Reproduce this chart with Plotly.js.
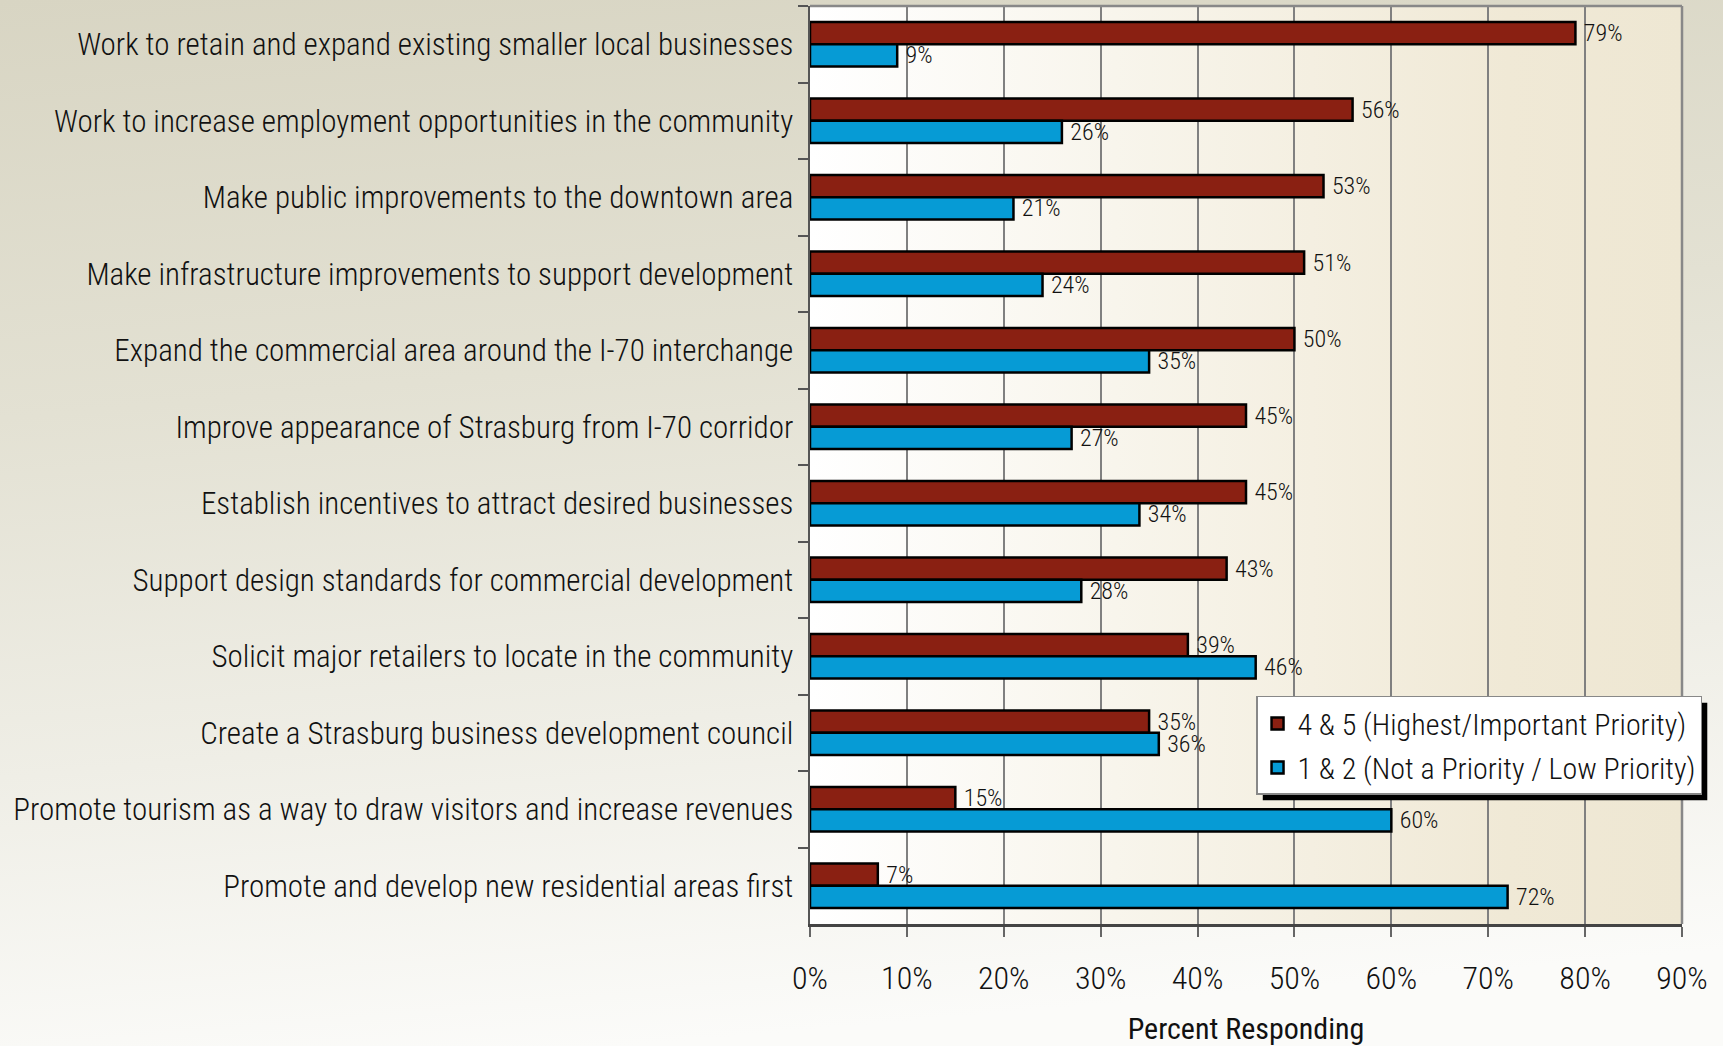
<!DOCTYPE html>
<html>
<head>
<meta charset="utf-8">
<script src="https://cdn.plot.ly/plotly-3.0.1.min.js"></script>
<style>
  body { margin: 0; }
  /* condensed face of Roboto stands in for the narrow font of the original */
  svg text { font-stretch: condensed !important; }
  #wrap {
    position: relative; width: 1723px; height: 1046px;
    background: linear-gradient(175deg, #d8d5c3 0%, #e3e1d3 35%, #efeee6 65%, #fbfbf9 92%);
  }
  #plotbg {
    position: absolute; left: 810px; top: 6px; width: 872px; height: 918px;
    background: linear-gradient(to right, #ffffff 0%, #f8f5ec 35%, #f0e9d6 80%, #eee7d3 100%);
  }
  #chart { position: absolute; left: 0; top: 0; width: 1723px; height: 1046px; }
</style>
</head>
<body>
<div id="wrap">
  <div id="plotbg"></div>
  <div id="chart"></div>
</div>
<script>
// survey items, top to bottom
const categories = [
    "Work to retain and expand existing smaller local businesses",
    "Work to increase employment opportunities in the community",
    "Make public improvements to the downtown area",
    "Make infrastructure improvements to support development",
    "Expand the commercial area around the I-70 interchange",
    "Improve appearance of Strasburg from I-70 corridor",
    "Establish incentives to attract desired businesses",
    "Support design standards for commercial development",
    "Solicit major retailers to locate in the community",
    "Create a Strasburg business development council",
    "Promote tourism as a way to draw visitors and increase revenues",
    "Promote and develop new residential areas first"
];
const highPriority = [79, 56, 53, 51, 50, 45, 45, 43, 39, 35, 15, 7];
const lowPriority  = [9, 26, 21, 24, 35, 27, 34, 28, 46, 36, 60, 72];
const seriesNames = ["4 & 5 (Highest/Important Priority)", "1 & 2 (Not a Priority / Low Priority)"];
const xTicks = [0, 10, 20, 30, 40, 50, 60, 70, 80, 90];
const xTickText = xTicks.map(v => v + "%");

function nfont(size, weight) {
    return { family: "Roboto, 'Open Sans', sans-serif", size: size, color: "#111111", weight: weight || 400 };
}

function barTrace(vals, name, color, group) {
    return {
        type: "bar",
        orientation: "h",
        name: name,
        legendgroup: group,
        x: vals,
        y: categories,
        marker: { color: color, line: { color: "#000000", width: 2.5 } },
        text: vals.map(v => " " + v + "%"),
        textposition: "outside",
        constraintext: "none",
        textfont: nfont(24, 300),
        cliponaxis: false,
        hoverinfo: "skip"
    };
}

const data = [
    barTrace(highPriority, seriesNames[0], "#8a2012", "a"),
    barTrace(lowPriority, seriesNames[1], "#069bd5", "b")
];

const layout = {
    width: 1723,
    height: 1046,
    margin: { l: 810, r: 41, t: 6, b: 122, autoexpand: false },
    paper_bgcolor: "rgba(0,0,0,0)",
    plot_bgcolor: "rgba(0,0,0,0)",
    barmode: "group",
    bargap: 0.42,
    bargroupgap: 0,
    showlegend: true,
    legend: {
        x: 0.5115, y: 0.2484, xanchor: "left", yanchor: "top",
        bgcolor: "#ffffff", bordercolor: "#888888", borderwidth: 1.5,
        font: nfont(30, 300),
        tracegroupgap: 2
    },
    xaxis: {
        range: [0, 90],
        tickvals: xTicks,
        ticktext: xTickText,
        ticks: "outside", ticklen: 10, tickwidth: 2, tickcolor: "#666666",
        showgrid: true, gridcolor: "#808080", gridwidth: 2,
        showline: true, linecolor: "#444444", linewidth: 2.5,
        zeroline: false,
        ticklabelstandoff: 14,
        tickfont: nfont(32, 300),
        title: { text: "Percent Responding", standoff: 32, font: nfont(30, 400) }
    },
    yaxis: {
        autorange: "reversed",
        type: "category",
        ticks: "outside", ticklen: 10, tickwidth: 2, tickcolor: "#555555",
        tickson: "boundaries",
        showgrid: false,
        showline: true, linecolor: "#555555", linewidth: 2.5,
        ticklabelstandoff: 8,
        tickfont: nfont(31, 300)
    },
    shapes: [
        { type: "line", xref: "paper", yref: "paper", x0: 0, x1: 1, y0: 1, y1: 1,
          line: { color: "#888888", width: 2.5 } },
        { type: "line", xref: "paper", yref: "paper", x0: 1, x1: 1, y0: 0, y1: 1,
          line: { color: "#888888", width: 2.5 } }
    ]
};

Plotly.newPlot("chart", data, layout, { displayModeBar: false, staticPlot: true }).then(function (gd) {
    // drop shadow behind the legend box
    const bg = gd.querySelector(".legend .bg").getBoundingClientRect();
    const l = 810, t = 6, w = 872, h = 918;
    const off = 6;
    const shadow = {
        type: "rect", xref: "paper", yref: "paper", layer: "above",
        x0: (bg.left + off - l) / w, x1: (bg.right + off - l) / w,
        y0: 1 - (bg.bottom + off - t) / h, y1: 1 - (bg.top + off - t) / h,
        fillcolor: "#000000", line: { width: 0 }
    };
    return Plotly.relayout(gd, { shapes: layout.shapes.concat([shadow]) });
});
</script>
</body>
</html>
